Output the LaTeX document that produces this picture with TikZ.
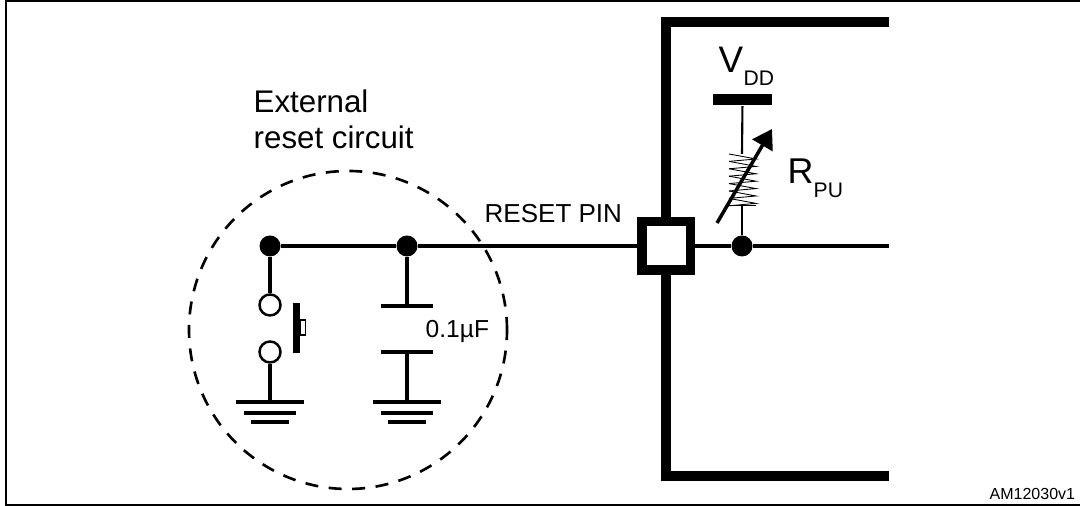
\documentclass[tikz,border=0pt]{standalone}
\usepackage{fontspec}
\setmainfont{Liberation Sans}
\usetikzlibrary{positioning,arrows.meta,calc}

\begin{document}
\begin{tikzpicture}[
  wire/.style={line width=1pt},
  thinwire/.style={line width=0.6pt},
  bus/.style={line width=2.85pt},
  dot/.style={circle, fill=black, minimum size=0.21cm, inner sep=0pt},
  contact/.style={circle, draw, fill=white, line width=0.7pt, minimum size=0.21cm, inner sep=0pt},
  plate/.style={fill=black, minimum width=0.52cm, minimum height=1pt, inner sep=0pt},
  lbl/.style={inner sep=0pt, anchor=base west}
]
  \useasboundingbox (0,0) rectangle (10.8,5.06);

  % Frame, open on the right
  \coordinate (tr) at (10.8,5.05);
  \coordinate (tl) at (0.06,5.05);
  \coordinate (bl) at (0.06,0.01);
  \coordinate (br) at (10.8,0.01);
  \draw[thinwire] (tr) -- (tl) -- (bl) -- (br);

  \node[circle, draw, line width=0.75pt, dash pattern=on 3.7pt off 3pt, minimum size=3.18cm, inner sep=0pt] (ext) at (3.48,1.76) {};

  \node[dot] (nodea) at (2.70,2.60) {};
  \node[dot] (nodeb) at (4.07,2.60) {};
  \node[dot] (nodec) at (7.42,2.60) {};
  \node[draw, fill=white, line width=2.7pt, minimum size=0.485cm, inner sep=0pt] (pin) at (6.66,2.60) {};
  \coordinate (wireend) at (8.89,2.60);

  % Push button
  \node[contact] (swa) at (2.70,2.01) {};
  \node[contact] (swb) at (2.70,1.54) {};
  \node[draw, line width=0.5pt, minimum width=0.05cm, minimum height=0.15cm, inner sep=0pt] (cap) at (3.03,1.785) {};
  \node[fill=black, minimum width=0.07cm, minimum height=0.5cm, inner sep=0pt] (btn) at (2.967,1.78) {};

  % Capacitor
  \node[plate] (capa) at (4.07,2.00) {};
  \node[plate] (capb) at (4.07,1.54) {};

  \coordinate (gnda) at (2.70,1.04);
  \coordinate (gndb) at (4.07,1.04);
  \foreach \g in {gnda,gndb} {
    \draw[wire] ($(\g)+(-0.34,0)$) -- ($(\g)+(0.34,0)$);
    \draw[wire] ($(\g)+(-0.26,-0.11)$) -- ($(\g)+(0.26,-0.11)$);
    \draw[wire] ($(\g)+(-0.19,-0.20)$) -- ($(\g)+(0.19,-0.20)$);
  }

  \draw[wire] (nodea) -- (nodeb);
  \draw[wire] (nodeb) -- (pin);
  \draw[wire] (pin) -- (nodec);
  \draw[wire] (nodec) -- (wireend);
  \draw[wire] (nodea) -- (swa);
  \draw[wire] (swb) -- (gnda);
  \draw[wire] (nodeb) -- (capa);
  \draw[wire] (capb) -- (gndb);

  % Chip outline
  \coordinate (bustop) at (8.89,4.84);
  \coordinate (busbot) at (8.89,0.30);
  \draw[bus] (bustop) -| (pin.north);
  \draw[bus] (pin.south) |- (busbot);

  % Pull-up
  \node[fill=black, minimum width=0.59cm, minimum height=0.11cm, inner sep=0pt] (vdd) at (7.425,4.06) {};
  \coordinate (rtop) at (7.42,3.52);
  \coordinate (rbot) at (7.42,3.00);
  \draw[thinwire] (vdd) -- (rtop);
  \draw[thinwire] (rbot) -- (nodec);
  \foreach \i in {0,...,6} {
    \draw[line width=0.25pt] ($(rtop)+(-0.13,-0.074*\i)$) -- ++(0.27,-0.05) -- ++(-0.27,-0.024);
  }
  \draw[line width=0.25pt] ($(rtop)+(-0.13,-0.518)$) -- ++(0.27,0);
  \coordinate (arrbase) at (7.17,2.83);
  \coordinate (arrtip) at (7.72,3.77);
  \draw[wire, -{Triangle[length=0.19cm,width=0.23cm]}] (arrbase) -- (arrtip);

  % Labels
  \node[lbl, align=left, font=\fontsize{8.9}{10.5}\selectfont] (title) at (2.53,3.57) {External\\reset circuit};
  \node[lbl, font=\fontsize{7.4}{9}\selectfont] (pinlbl) at (4.84,2.83) {RESET PIN};
  \node[lbl, font=\fontsize{7}{8}\selectfont] (caplbl) at (4.25,1.68) {0.1µF};
  \node[lbl, font=\fontsize{10.5}{12}\selectfont] (vlbl) at (7.18,4.33) {V};
  \node[lbl, font=\fontsize{6}{7}\selectfont] (ddlbl) at (7.43,4.20) {DD};
  \node[lbl, font=\fontsize{10.2}{12}\selectfont] (rlbl) at (7.87,3.22) {R};
  \node[lbl, font=\fontsize{6}{7}\selectfont] (pulbl) at (8.13,3.08) {PU};
  \node[lbl, font=\fontsize{4.55}{6}\selectfont] (reflbl) at (9.89,0.06) {AM12030v1};
\end{tikzpicture}
\end{document}
